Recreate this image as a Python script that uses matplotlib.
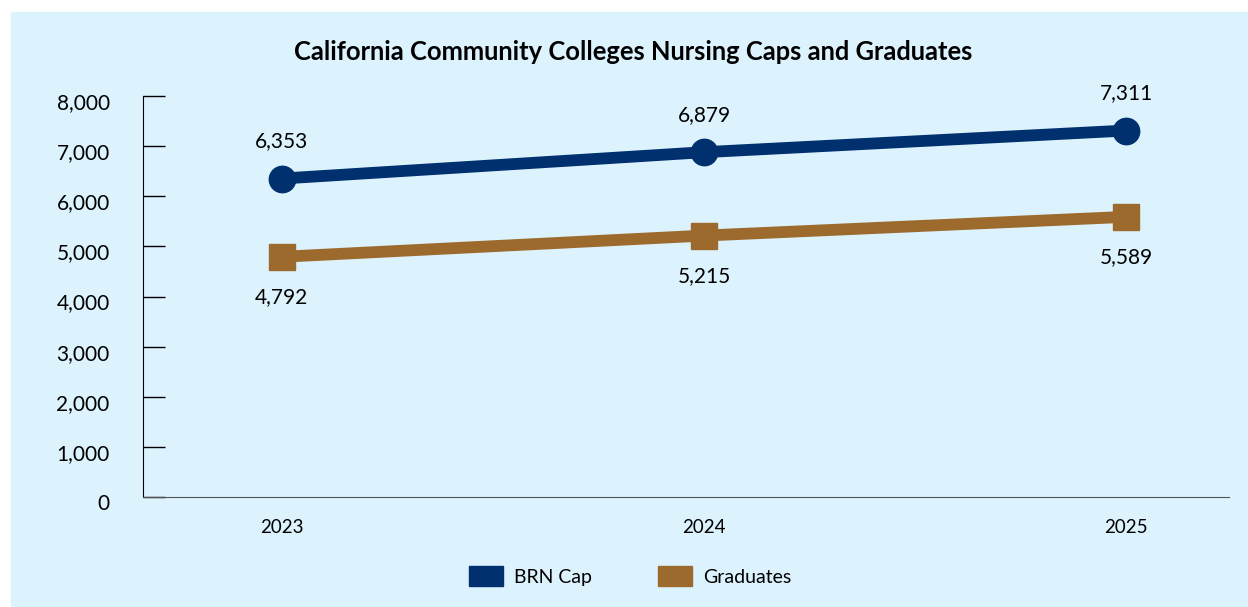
import matplotlib
matplotlib.use("Agg")
import matplotlib.pyplot as plt
import matplotlib.transforms as mtransforms
from matplotlib.patches import Patch, Rectangle

years = ["2023", "2024", "2025"]
brn_cap = [6353, 6879, 7311]
graduates = [4792, 5215, 5589]
yticks = [0, 1000, 2000, 3000, 4000, 5000, 6000, 7000, 8000]

NAVY = "#00306e"
BROWN = "#9c6a2c"
BG = "#dcf3fe"

plt.rcParams["font.family"] = ["Lato", "DejaVu Sans"]

fig = plt.figure(figsize=(12.48, 6.07), dpi=100, facecolor="white")
fig.patches.append(Rectangle((11 / 1248, 0), 1, 1 - 12 / 607,
                             transform=fig.transFigure, color=BG, zorder=-1))
ax = fig.add_axes([143 / 1248, 1 - 497 / 607, (1229 - 143) / 1248, (497 - 96) / 607])
ax.set_facecolor("none")

x = list(range(len(years)))
ax.plot(x, brn_cap, color=NAVY, lw=8.5, marker="o", ms=19, solid_capstyle="butt")
ax.plot(x, graduates, color=BROWN, lw=8.5, marker="s", ms=19, solid_capstyle="butt")

for xi, v in zip(x, brn_cap):
    ax.annotate(f"{v:,}", (xi, v), xytext=(0, 27), textcoords="offset points",
                ha="center", va="center", fontsize=15)
for xi, v in zip(x, graduates):
    ax.annotate(f"{v:,}", (xi, v), xytext=(0, -29), textcoords="offset points",
                ha="center", va="center", fontsize=15)

ax.set_xlim(-0.329, 2.244)
ax.set_ylim(0, 8000)
ax.set_xticks(x, years, fontsize=13.5)
ax.set_yticks(yticks, [f"{t:,}" for t in yticks], fontsize=15)
ax.tick_params(axis="x", length=0, pad=16)
ax.tick_params(axis="y", direction="in", length=16, width=1, pad=24)
shift = mtransforms.ScaledTranslation(0, -5 / 100, fig.dpi_scale_trans)
for lbl in ax.get_yticklabels():
    lbl.set_transform(lbl.get_transform() + shift)
for s in ["top", "right"]:
    ax.spines[s].set_visible(False)
ax.spines["left"].set_color("black")
ax.spines["bottom"].set_color("#555555")

fig.text(633 / 1248, 1 - 52 / 607, "California Community Colleges Nursing Caps and Graduates",
         ha="center", va="center", fontsize=18.4, fontweight="bold")

handles = [Patch(color=NAVY, label="BRN Cap"), Patch(color=BROWN, label="Graduates")]
fig.legend(handles=handles, loc="center", bbox_to_anchor=(630 / 1248, 1 - 576 / 607),
           ncol=2, frameon=False, fontsize=14, handlelength=1.75, handleheight=1.15,
           columnspacing=3.4, handletextpad=0.55)

fig.savefig("out.png", dpi=100, facecolor="white")
